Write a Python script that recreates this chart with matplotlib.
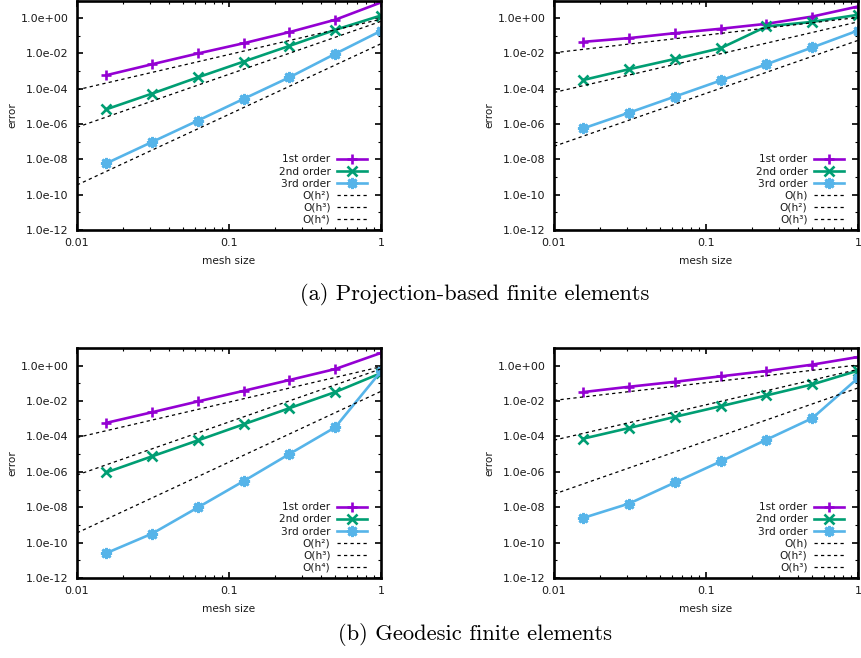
import numpy as np
import matplotlib
matplotlib.use('Agg')
import matplotlib.pyplot as plt
from matplotlib.ticker import FixedLocator, FuncFormatter, LogLocator, NullFormatter

# mesh sizes (coarse -> fine)
h = [1.0, 0.5, 0.25, 0.125, 0.0625, 0.03125, 0.015625]

# log10(error)
proj_o1 = [0.89, -0.09, -0.79, -1.42, -2.00, -2.61, -3.23]
proj_o2 = [0.15, -0.66, -1.57, -2.46, -3.35, -4.27, -5.16]
proj_o3 = [-0.72, -2.02, -3.35, -4.57, -5.80, -7.01, -8.22]

proj_p1 = [0.66, 0.09, -0.32, -0.60, -0.85, -1.13, -1.34]
proj_p2 = [0.19, -0.21, -0.47, -1.70, -2.31, -2.89, -3.50]
proj_p3 = [-0.70, -1.66, -2.61, -3.53, -4.44, -5.35, -6.24]

geo_o1 = [0.72, -0.19, -0.81, -1.42, -2.02, -2.63, -3.23]
geo_o2 = [-0.42, -1.49, -2.40, -3.31, -4.22, -5.12, -6.03]
geo_o3 = [-0.32, -3.48, -4.99, -6.52, -8.01, -9.49, -10.59]

geo_p1 = [0.49, 0.06, -0.30, -0.60, -0.91, -1.19, -1.49]
geo_p2 = [-0.28, -1.06, -1.68, -2.29, -2.89, -3.52, -4.12]
geo_p3 = [-0.70, -2.97, -4.18, -5.41, -6.60, -7.79, -8.60]

# reference slopes: (order, log10 of constant at h=1)
ref_left = [(2, -0.06), (3, -0.18), (4, -1.45)]
ref_right = [(1, 0.04), (2, -0.21), (3, -1.26)]
ref_names = {1: 'O(h)', 2: 'O(h²)', 3: 'O(h³)', 4: 'O(h⁴)'}

series_labels = ['1st order', '2nd order', '3rd order']
colors = ['#9400D3', '#009E73', '#56B4E9']
markers = ['+', 'x', (8, 2, 0)]
msizes = [7, 7, 8]
mews = [1.9, 1.9, 2.0]

FS_TICK = 8.0
FS = 7.6
TXT = '#1a1a1a'
W, H = 861, 658
fig = plt.figure(figsize=(W / 100, H / 100), dpi=100)


def panel(x0, x1, ytop, ybot, data, refs):
    ax = fig.add_axes([x0 / W, 1 - ybot / H, (x1 - x0) / W, (ybot - ytop) / H])
    ax.set_xscale('log')
    ax.set_yscale('log')
    hh = np.array(h)
    for vals, lab, c, m, ms, mw in zip(data, series_labels, colors, markers, msizes, mews):
        ax.plot(hh, 10.0 ** np.array(vals), color=c, lw=1.9, marker=m,
                ms=ms, mew=mw, label=lab)
    xr = np.array([0.01, 1.0])
    for p, c0 in refs:
        ax.plot(xr, 10.0 ** c0 * xr ** p, color='black', lw=0.9,
                ls=(0, (2.6, 2.6)), label=ref_names[p])
    ax.set_xlim(0.01, 1)
    ax.set_ylim(1e-12, 1e1)
    ax.xaxis.set_major_locator(FixedLocator([0.01, 0.1, 1]))
    ax.xaxis.set_major_formatter(FuncFormatter(lambda v, _: '%g' % v))
    ax.xaxis.set_minor_locator(LogLocator(base=10, subs=np.arange(2, 10)))
    ax.xaxis.set_minor_formatter(NullFormatter())
    ax.yaxis.set_major_locator(FixedLocator([10.0 ** k for k in range(-12, 1, 2)]))
    ax.yaxis.set_major_formatter(FuncFormatter(lambda v, _: '%.1e' % v))
    ax.yaxis.set_minor_locator(FixedLocator([10.0 ** k for k in range(-11, 2, 2)]))
    ax.yaxis.set_minor_formatter(NullFormatter())
    ax.tick_params(which='both', direction='in', top=True, right=True,
                   labelsize=FS_TICK, colors='black', labelcolor=TXT)
    ax.tick_params(which='major', length=4, width=1.2, pad=6)
    ax.tick_params(which='minor', length=2, width=0.8)
    for s in ax.spines.values():
        s.set_linewidth(1.9)
    ax.set_xlabel('mesh size', fontsize=FS, color=TXT)
    ax.set_ylabel('error', fontsize=FS, color=TXT)
    ax.xaxis.set_label_coords(0.5, -0.115)
    ax.yaxis.set_label_coords(-0.195, 0.5)
    leg = ax.legend(loc='lower right', bbox_to_anchor=(0.955, 0.022),
                    frameon=False, fontsize=FS, markerfirst=False,
                    handlelength=2.9, handletextpad=0.6, labelspacing=0.2,
                    borderpad=0, borderaxespad=0)
    for col in leg._legend_handle_box.get_children():
        col.align = 'right'
    for t in leg.get_texts():
        t.set_color(TXT)
    return ax


panel(77, 381, 0.5, 230, [proj_o1, proj_o2, proj_o3], ref_left)
panel(554, 858, 0.5, 230, [proj_p1, proj_p2, proj_p3], ref_right)
panel(77, 381, 348, 578, [geo_o1, geo_o2, geo_o3], ref_left)
panel(554, 858, 348, 578, [geo_p1, geo_p2, geo_p3], ref_right)

cap = dict(ha='center', va='center', fontsize=16.2, family='cmr10')
fig.text(475 / W, 1 - 295 / H, '(a) Projection-based finite elements', **cap)
fig.text(475 / W, 1 - 635 / H, '(b) Geodesic finite elements', **cap)

fig.savefig('out.png', dpi=100)
